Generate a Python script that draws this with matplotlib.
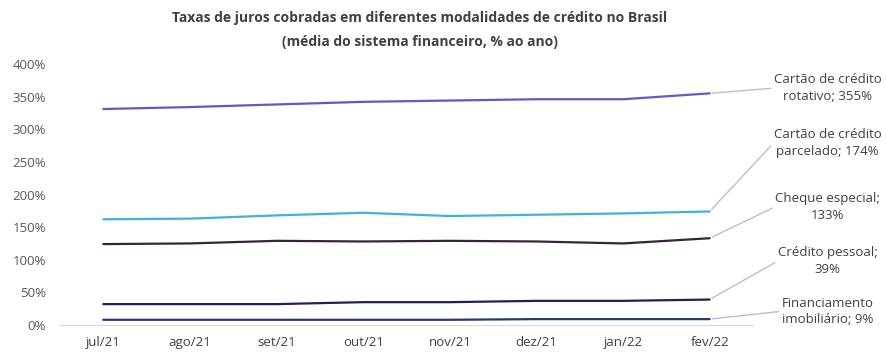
'''
Taxas de juros por modalidade de crédito (Brasil).
'''

import matplotlib
matplotlib.use('Agg')
from matplotlib import pyplot as plt


#(0) Data:
months     = ['jul/21','ago/21','set/21','out/21','nov/21','dez/21','jan/22','fev/22']
rotativo   = [331, 334, 338, 342, 344, 346, 346, 355]
parcelado  = [162, 163, 168, 172, 167, 169, 171, 174]
cheque     = [124, 125, 129, 128, 129, 128, 125, 133]
pessoal    = [32, 32, 32, 35, 35, 37, 37, 39]
imob       = [8, 8, 8, 8, 8, 9, 9, 9]
labels     = ['Cartão de crédito\nrotativo; 355%', 'Cartão de crédito\nparcelado; 174%',
              'Cheque especial;\n133%', 'Crédito pessoal;\n39%', 'Financiamento\nimobiliário; 9%']
yticks     = [0, 50, 100, 150, 200, 250, 300, 350, 400]


#(1) Plot:
plt.rcParams['font.family'] = ['Open Sans', 'DejaVu Sans']
fig = plt.figure(figsize=(8.86, 3.59), dpi=100)
ax  = fig.add_axes([60/886, 34/359, 693/886, 261/359])

series = [rotativo, parcelado, cheque, pessoal, imob]
colors = ['#6a55c8', '#3db4dc', '#3b2140', '#241d5e', '#1f3c78']
label_y = [363, 279, 181, 98, 21]   # label centres, in data units

x = range(len(months))
for s, c, lab, ly in zip(series, colors, labels, label_y):
	ax.plot(x, s, color=c, lw=1.6, solid_capstyle='round')
	ax.annotate(lab, xy=(x[-1], s[-1]), xytext=(8.36, ly), textcoords='data',
		ha='center', va='center', fontsize=9.5, color='#404040', linespacing=1.35,
		annotation_clip=False,
		arrowprops=dict(arrowstyle='-', color='#bfbfbf', lw=1, relpos=(0, 0.5),
			shrinkA=0, shrinkB=2))

ax.set_xlim(-0.5, len(months) - 0.5)
ax.set_ylim(0, 400)
ax.set_xticks(list(x))
ax.set_xticklabels(months, fontsize=9.5, color='#404040')
ax.set_yticks(yticks)
ax.set_yticklabels(['%d%%' % v for v in yticks], fontsize=9.5, color='#595959')
ax.tick_params(length=0, pad=8)
ax.tick_params(axis='y', pad=10)
for sp in ['top', 'right', 'left']:
	ax.spines[sp].set_visible(False)
ax.spines['bottom'].set_color('#d9d9d9')

fig.text(420/886, 1 - 30/359, 'Taxas de juros cobradas em diferentes modalidades de crédito no Brasil\n(média do sistema financeiro, % ao ano)',
	ha='center', va='center', fontsize=10, fontweight='bold', color='#404040', linespacing=1.9)

plt.savefig('out.png', dpi=100)
